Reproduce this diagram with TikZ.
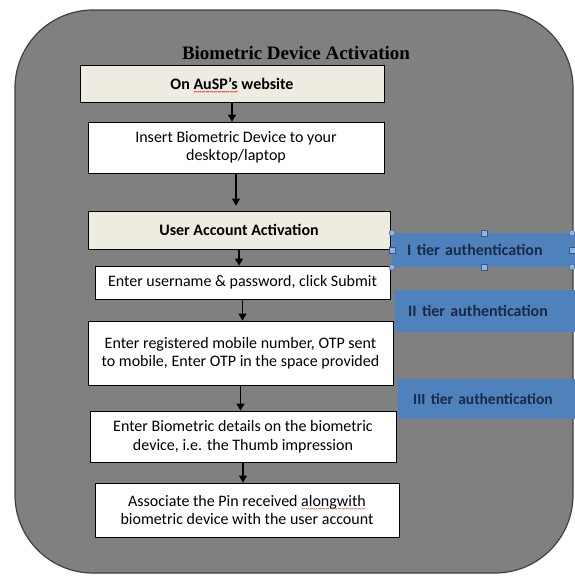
\documentclass[tikz,border=0pt]{standalone}
\usepackage{fontspec}
\setmainfont{Carlito}
\newfontfamily\titlefont{Liberation Serif}
\usetikzlibrary{arrows.meta}
\definecolor{panelgray}{HTML}{808080}
\definecolor{beige}{HTML}{EEECE1}
\definecolor{tierblue}{HTML}{4F81BD}
\definecolor{tiertext}{HTML}{1B2A44}
\definecolor{handlefill}{HTML}{8DB4E2}
\definecolor{wavered}{HTML}{E02020}
\newcommand\redwave[1]{\setbox0\hbox{#1}\rlap{\copy0}\raisebox{-5.5pt}[0pt][0pt]{\color{wavered}\fontsize{8}{8}\selectfont\hbox to \wd0{\xleaders\hbox{\char"7E}\hfill}}}
\tikzset{
  stepbox/.style={draw=black, line width=0.8pt, fill=white, align=center, inner sep=0pt,
    font=\fontsize{16}{18.5}\selectfont},
  tierbox/.style={fill=tierblue, text=tiertext, align=left, inner xsep=15pt, inner ysep=0pt,
    text width=160pt, anchor=north west, font=\fontsize{16}{18}\selectfont\bfseries},
  flow/.style={draw=black, line width=1.3pt, -{Triangle[width=8pt,length=7pt]}},
  hcirc/.style={fill=handlefill, draw=tierblue!70!black, line width=0.4pt},
}
\begin{document}
\begin{tikzpicture}[x=1pt,y=-1pt]
\useasboundingbox (0,0) rectangle (574,576);
\fill[white] (0,0) rectangle (574,576);
\draw[fill=panelgray, draw=black!75, line width=1.2pt, rounded corners=78pt] (15,10) rectangle (573,573);

\node[font=\titlefont\fontsize{19}{22}\selectfont\bfseries, inner sep=0pt] (title) at (296,53) {Biometric Device Activation};

\node[stepbox, fill=beige, minimum width=304pt, minimum height=37pt, font=\fontsize{16}{18.5}\selectfont\bfseries] (b1) at (232,83.5) {On \redwave{AuSP’s} website};
\node[stepbox, minimum width=296pt, minimum height=51pt] (b2) at (236,147.5) {Insert Biometric Device to your\\desktop/laptop};
\node[stepbox, fill=beige, minimum width=302pt, minimum height=38pt, font=\fontsize{16}{18.5}\selectfont\bfseries] (b3) at (239,230) {User Account Activation};
\node[stepbox, minimum width=295pt, minimum height=33pt] (b4) at (242.5,282.5) {Enter username \& password, click Submit};
\node[stepbox, minimum width=305pt, minimum height=64pt] (b5) at (240.5,353) {Enter registered mobile number, OTP sent\\to mobile, Enter OTP in the space provided};
\node[stepbox, minimum width=306pt, minimum height=51pt] (b6) at (243,436.5) {Enter Biometric details on the biometric\\device, i.e. the Thumb impression};
\node[stepbox, minimum width=304pt, minimum height=54pt] (b7) at (247,510) {Associate the Pin received \redwave{alongwith}\\biometric device with the user account};

\draw[flow] (b1.south) -- (b1.south |- b2.north);
\draw[flow] (b2.south) -- ([yshift=5pt]b2.south |- b3.north);
\draw[flow] (b3.south) -- (b3.south |- b4.north);
\draw[flow] (b4.south) -- (b4.south |- b5.north);
\draw[flow] (b5.south) -- (b5.south |- b6.north);
\draw[flow] (b6.south) -- (b6.south |- b7.north);

\node[tierbox, minimum height=34pt] (t1) at (392,233) {I tier authentication};
\node[tierbox, minimum height=42pt, inner xsep=13pt] (t2) at (395,290) {II tier authentication};
\node[tierbox, minimum height=40pt, font=\fontsize{15.5}{18}\selectfont\bfseries] (t3) at (398,379) {III tier authentication};

\foreach \a in {north west, south west} {
  \filldraw[hcirc] (t1.\a) circle (3pt);
}
\filldraw[hcirc] (572,233) circle (3pt);
\filldraw[hcirc] (572,267) circle (3pt);
\filldraw[hcirc] ([xshift=-3pt,yshift=-3pt]t1.west) rectangle ([xshift=3pt,yshift=3pt]t1.west);
\filldraw[hcirc] (481,230) rectangle (487,236);
\filldraw[hcirc] (481,264) rectangle (487,270);
\filldraw[hcirc] (569,247) rectangle (575,253);
\end{tikzpicture}
\end{document}
